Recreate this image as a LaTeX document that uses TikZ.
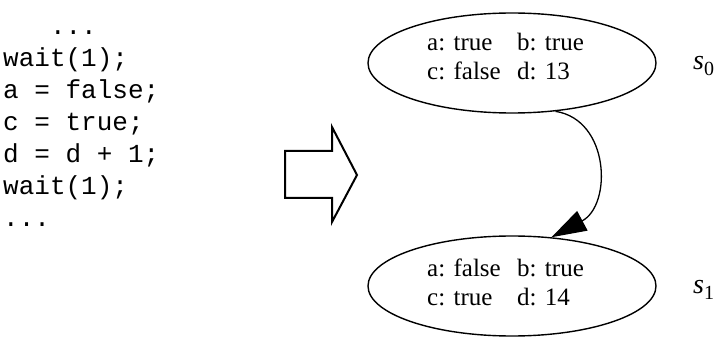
\documentclass[tikz,border=0pt]{standalone}
\usepackage{fontspec}
\setmainfont{Liberation Serif}
\setmonofont{Liberation Mono}
\usetikzlibrary{shapes.geometric,arrows.meta}
\begin{document}
\begin{tikzpicture}[x=1pt,y=-1pt,
  state/.style={draw, ellipse, line width=1.4pt, minimum width=288pt,
    minimum height=100pt, inner sep=0pt},
  vals/.style={anchor=base west, inner sep=0pt,
    font=\fontsize{25}{29}\selectfont},
  code/.style={anchor=base west, inner sep=0pt, align=left,
    font=\fontsize{26}{32}\selectfont\ttfamily},
  lbl/.style={anchor=base west, inner sep=0pt,
    font=\fontsize{28}{30}\selectfont},
  trans/.style={line width=1.3pt, -{Triangle[length=35pt,width=22pt]}},
  bigarrow/.style={draw, line width=2pt, line join=miter}]
\useasboundingbox (0,0) rectangle (720,339);

% source fragment (anchored at the baseline of its last line)
\node[code] (src) at (3,226) {\frenchspacing
  \hphantom{xxx}...\\
  wait(1);\\
  a = false;\\
  c = true;\\
  d = d + 1;\\
  wait(1);\\
  ...};

% hollow "becomes" arrow
\path[bigarrow] (285,151) -- (332,151) -- (332,127) -- (357,175)
  -- (332,222) -- (332,198) -- (285,198) -- cycle;

% states
\node[state] (s0) at (512,63) {};
\node[state] (s1) at (512,286) {};

\node[vals] (v0) at (427,51) {\begin{tabular}[t]{@{}p{90pt}@{}l@{}}
  a: true & b: true\\ c: false & d: 13\end{tabular}};
\node[vals] (v1) at (427,276) {\begin{tabular}[t]{@{}p{90pt}@{}l@{}}
  a: false & b: true\\ c: true & d: 14\end{tabular}};

\node[lbl] (l0) at (693,70) {\textit{s}\raisebox{-6pt}{\fontsize{20}{20}\selectfont 0}};
\node[lbl] (l1) at (693,293) {\textit{s}\raisebox{-6pt}{\fontsize{20}{20}\selectfont 1}};

% transition
\draw[trans] (s0.-48) .. controls (610,120) and (612,205) .. (s1.51);
\end{tikzpicture}
\end{document}
